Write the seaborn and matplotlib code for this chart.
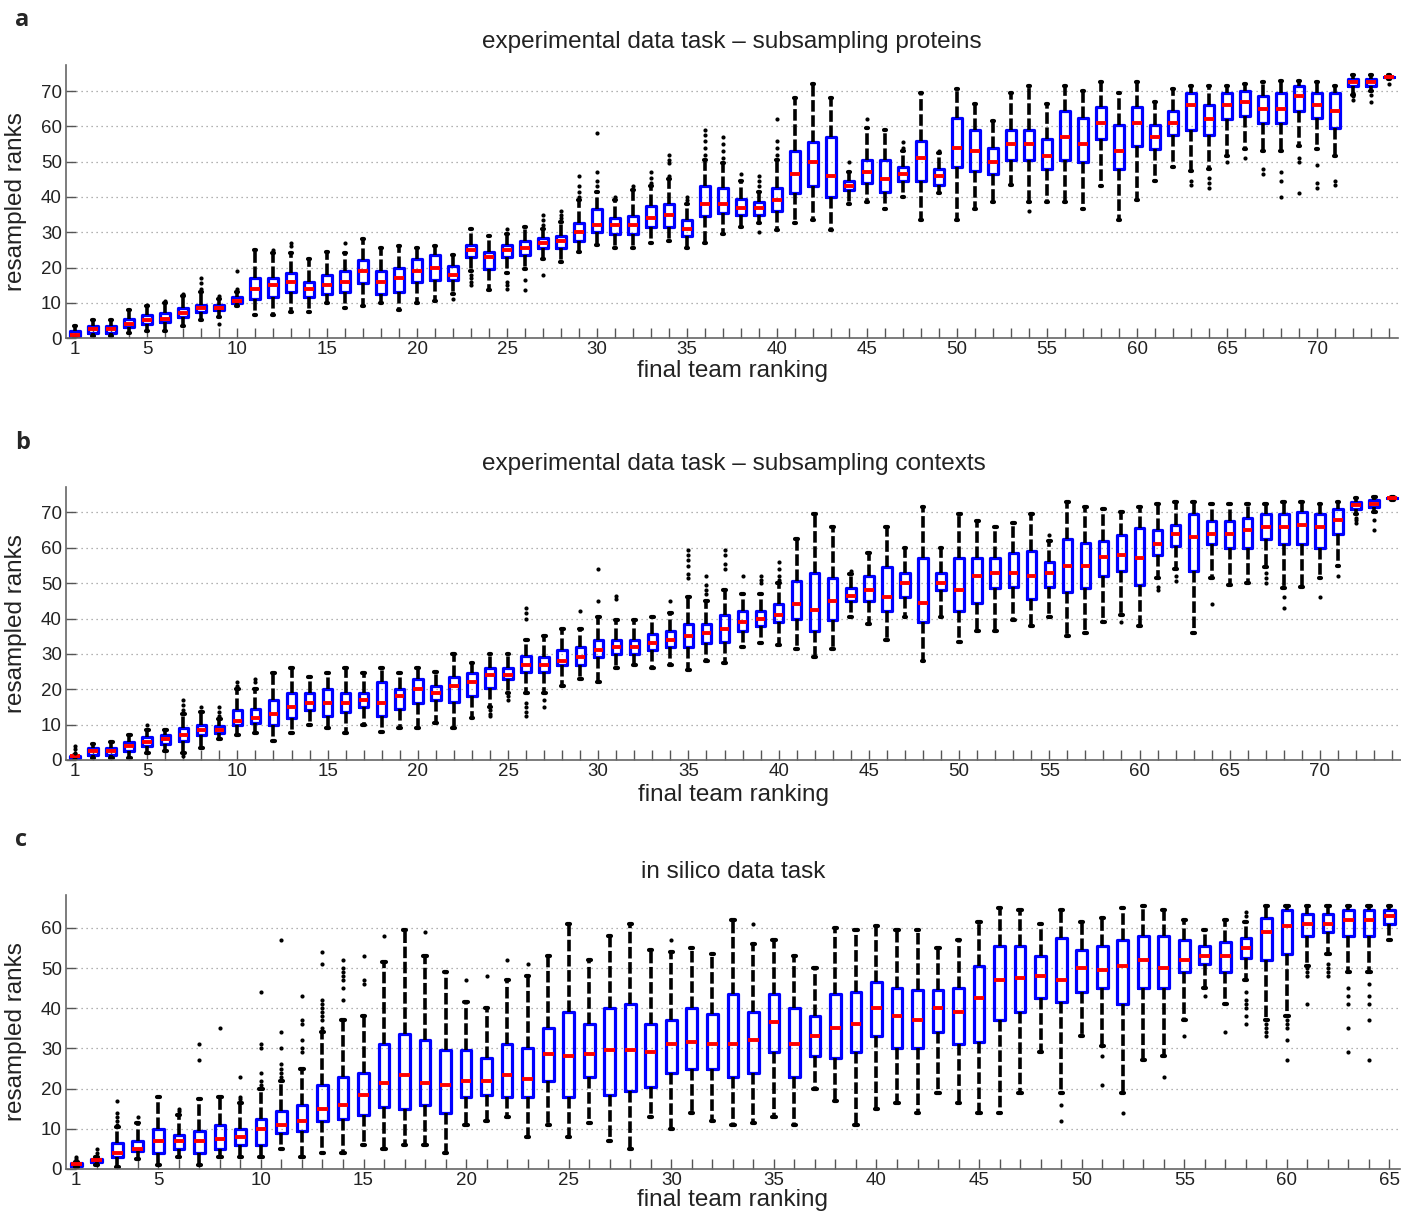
import matplotlib
matplotlib.use("Agg")
import matplotlib.pyplot as plt
import seaborn as sns
import pandas as pd
import numpy as np

# Panel a: experimental data task - subsampling proteins (74 teams)
a_lo = [0, 0.5, 0.5, 1.5, 2, 2, 3.5, 5, 6, 9,
        6.5, 6.5, 7.5, 7.5, 10, 8.5, 9, 10, 8, 10,
        10.5, 12.5, 19, 13.5, 18.5, 19.5, 22.5, 21.5, 24.5, 26.5,
        25.5, 25.5, 27, 27.5, 25.5, 27, 29.5, 31.5, 32.5, 30.5,
        32.5, 33.5, 30.5, 38, 38.5, 36.5, 40, 33.5, 41, 33.5,
        36.5, 38.5, 43.5, 38.5, 38.5, 38.5, 36.5, 43, 33.5, 39,
        44.5, 48.5, 47.5, 48, 51.5, 53.5, 53, 53, 54.5, 53.5,
        51.5, 69, 70, 73.5]
a_q1 = [0.5, 1.5, 1.5, 3, 4, 4.5, 6, 7.5, 8, 10,
        11, 11.5, 13, 11.5, 12.5, 13, 15.5, 12.5, 13, 16,
        16.5, 16.5, 23, 19.5, 23, 23.5, 25.5, 25.5, 27.5, 30,
        29.5, 29.5, 31.5, 31.5, 29, 34.5, 35.5, 35, 35, 36,
        41, 43, 40, 42, 44, 41.5, 44.5, 44.5, 43.5, 48.5,
        47.5, 46.5, 50.5, 50.5, 48, 50.5, 50, 56.5, 48, 54.5,
        53.5, 57.5, 59, 57.5, 62, 63, 61, 61, 64.5, 62.5,
        59.5, 71.5, 71.5, 74]
a_med = [1, 2.5, 2.5, 4, 5, 5.5, 7, 8.5, 8.5, 10.5,
         14, 15, 16, 14, 15, 16, 19, 16, 17, 19,
         20, 18, 25, 23, 25, 25.5, 27, 27.5, 30, 32,
         32, 32, 34, 35, 31, 38, 38, 37, 37, 39,
         46.5, 50, 46, 43, 47, 45, 46.5, 51, 46, 54,
         53, 50, 55, 55, 51.5, 57, 55, 61, 53, 61,
         57, 61, 66, 62, 66, 67, 65, 65, 68.5, 66,
         64.5, 72.5, 72.5, 74]
a_q3 = [2, 3.5, 3.5, 5.5, 6.5, 7, 8.5, 9.5, 9.5, 11.5,
        17, 17, 18.5, 16, 18, 19, 22, 19, 20, 22.5,
        23.5, 20.5, 26.5, 24.5, 26.5, 27.5, 28.5, 29, 32.5, 36.5,
        34, 34.5, 37.5, 38, 33.5, 43, 42.5, 39.5, 38.5, 42.5,
        53, 55.5, 57, 44.5, 50.5, 50.5, 48.5, 56, 48, 62.5,
        59, 54, 59, 59, 56.5, 64.5, 62.5, 65.5, 60.5, 65.5,
        60.5, 64.5, 69.5, 66, 69.5, 70, 68.5, 69.5, 71.5, 69.5,
        69.5, 73.5, 73.5, 74]
a_hi = [3.5, 5, 5, 8, 9, 10, 12, 13, 11, 13,
        25, 24, 24, 22.5, 24.5, 24, 28, 25.5, 26, 25.5,
        26, 23.5, 31, 29, 29.5, 31.5, 31, 33, 39, 41.5,
        39, 42, 43, 45, 38, 50.5, 49.5, 44.5, 41.5, 50.5,
        68, 72, 68, 47, 59.5, 59, 53, 69.5, 52.5, 70.5,
        66.5, 61.5, 69.5, 71.5, 66.5, 71.5, 70, 72.5, 69.5, 72.5,
        67, 70.5, 71.5, 71.5, 71.5, 72, 72.5, 73, 73, 72.5,
        71.5, 74.5, 74.5, 74.5]
a_out_team = [5, 6, 7, 8, 8, 8, 9, 9, 10, 10,
              12, 13, 13, 16, 22, 23, 23, 23, 23, 25,
              25, 25, 25, 26, 26, 27, 27, 27, 27, 28,
              28, 28, 29, 29, 29, 29, 30, 30, 30, 30,
              31, 32, 33, 33, 33, 34, 34, 34, 34, 35,
              35, 36, 36, 36, 36, 36, 37, 37, 37, 37,
              38, 39, 39, 39, 39, 40, 40, 40, 40, 44,
              45, 47, 47, 49, 54, 63, 63, 64, 64, 64,
              65, 66, 67, 67, 68, 68, 68, 69, 69, 69,
              70, 70, 70, 71, 71, 72, 72, 72, 73, 73,
              74]
a_out_rank = [9.5, 10.5, 12.5, 14, 15.5, 17, 4, 12, 14, 19,
              25, 26, 27, 27, 11, 15, 16, 17, 18, 14,
              15, 16, 31, 13.5, 16.5, 18, 32, 33.5, 35, 34,
              35, 36, 40, 41.5, 43, 46, 43, 44.5, 47, 58,
              40, 43, 44, 45.5, 47, 46, 49.5, 50.5, 52, 39,
              40, 52, 54, 56, 57.5, 59, 51, 53, 55, 57,
              46.5, 30, 43, 44.5, 46, 52, 54, 56, 62, 50,
              62, 54, 55.5, 53, 36, 43.5, 44.5, 42.5, 44, 45.5,
              50, 51, 46.5, 48, 40, 44.5, 47, 41, 50, 51,
              42.5, 44, 49, 43.5, 44.5, 67.5, 68.5, 69.5, 67, 69,
              72]

# Panel b: experimental data task - subsampling contexts (74 teams)
b_lo = [0, 0.5, 0.5, 0.5, 2, 2.5, 2, 3.5, 6, 7,
        7.5, 5.5, 7.5, 10, 9, 7.5, 10, 8, 9, 9,
        10.5, 9, 12, 15, 19, 19, 19, 21, 23, 22,
        26, 27, 26, 27, 25.5, 28, 27.5, 32, 33, 32.5,
        31.5, 29, 31.5, 40.5, 38.5, 34, 40.5, 28, 40.5, 33.5,
        36.5, 36.5, 39.5, 38, 40.5, 35, 36, 39, 41, 38,
        51.5, 54, 36, 51.5, 49.5, 50, 54.5, 48.5, 49, 51.5,
        55, 69.5, 70, 73.5]
b_q1 = [0.7, 1.5, 1.5, 2.5, 4, 4.5, 5.5, 7, 7.5, 10,
        10.5, 10, 12, 14, 12.5, 13.5, 15, 12.5, 14.5, 16,
        17, 16.5, 18, 20.5, 23, 25, 25, 27, 27, 29,
        30, 30, 31, 32, 32, 33, 33.5, 36.5, 38, 39,
        40, 36.5, 39.5, 45, 45, 42, 46, 39, 48, 42,
        44.5, 48.5, 49, 45.5, 49, 47.5, 48.5, 52, 53.5, 49.5,
        58, 60.5, 53.5, 61, 60, 60, 62.5, 61, 61, 60,
        64, 71, 71.5, 74]
b_med = [1, 2.5, 2.5, 4, 5, 6, 7, 8.5, 8.5, 11,
         12, 13, 15, 16, 16, 16, 17, 16, 18, 20,
         19, 21, 22, 24, 24, 27, 27, 28, 29, 31,
         32, 32, 33, 34, 35, 36, 37, 39, 40, 41,
         44, 42.5, 45, 46.5, 48, 46, 50, 44.5, 50, 48,
         52, 53, 53, 52, 53, 55, 55, 57.5, 58, 57,
         61, 64, 63, 64, 64, 65, 66, 66, 66.5, 66,
         68, 72, 72.5, 74]
b_q3 = [1.2, 3.5, 3.5, 5, 6.5, 7, 9, 10, 9.5, 14,
        14.5, 17, 19, 19, 20, 19, 19, 22, 20, 23,
        21, 23.5, 24.5, 26, 26, 29.5, 29, 31, 32, 34,
        34, 34, 35.5, 36.5, 38.5, 38.5, 41, 42, 42, 44,
        50.5, 53, 51.5, 48.5, 52, 54.5, 53, 57, 53, 57,
        57, 57, 58.5, 59, 56, 62.5, 61.5, 62, 63.5, 65.5,
        65, 66.5, 69.5, 67.5, 67.5, 68.5, 69.5, 69.5, 70, 69.5,
        71, 73, 73.5, 74]
b_hi = [1.5, 4.5, 5, 7, 8.5, 8.5, 13, 13.5, 11.5, 20,
        20, 24.5, 26, 23.5, 24.5, 26, 24.5, 26, 24.5, 26,
        25, 30, 27.5, 30, 30, 34, 35, 37, 37, 40.5,
        39.5, 39.5, 40.5, 41.5, 46, 45, 48, 47, 47, 50,
        62.5, 69.5, 66, 52.5, 58.5, 66, 60, 71.5, 60, 69.5,
        67.5, 66, 67, 69.5, 62, 73, 71.5, 71, 70, 71.5,
        72.5, 73, 73, 72.5, 72.5, 72.5, 72.5, 73, 73, 72.5,
        73, 74, 74.5, 74.5]
b_out_team = [1, 1, 1, 5, 7, 7, 7, 7, 8, 9,
              9, 9, 10, 10, 11, 11, 24, 24, 24, 25,
              25, 26, 26, 26, 26, 26, 26, 26, 27, 27,
              29, 30, 30, 31, 31, 34, 35, 35, 35, 35,
              35, 35, 36, 36, 36, 36, 37, 37, 37, 37,
              38, 39, 39, 39, 40, 40, 40, 40, 44, 55,
              59, 61, 61, 62, 62, 64, 67, 67, 67, 68,
              68, 70, 71, 72, 72, 72, 73, 73]
b_out_rank = [2, 3, 4, 10, 1, 14, 15.5, 17, 15, 12.5,
              13.5, 15, 21, 22, 22, 23, 12.5, 13, 14, 17,
              18, 12.5, 13.5, 15, 16, 40, 41.5, 43, 15, 17,
              42, 45, 54, 45.5, 46.5, 45, 51.5, 52.5, 55, 56.5,
              58, 59.5, 47, 48, 49.5, 52, 54, 55.5, 58, 59.5,
              52, 50, 51, 52, 51, 52, 54, 56, 53.5, 63.5,
              39, 48, 49, 50.5, 52, 44, 50, 51.5, 53, 43,
              46, 46, 52, 67, 68, 68.5, 65, 68]

# Panel c: in silico data task (65 teams)
c_lo = [0.5, 1, 0.5, 2.5, 1, 3, 1, 3, 3, 3,
        5, 3, 4, 4, 6, 5, 6, 6, 4, 11,
        12, 13, 8, 11, 8, 11.5, 7, 5, 13, 10,
        14, 12, 11, 11.5, 13, 11, 20, 17, 11, 15,
        16.5, 14, 19, 16.5, 14, 14, 19, 29, 19, 33,
        30.5, 19, 27, 28, 37, 45, 41, 47, 37, 38,
        50.5, 53.5, 49, 49, 57]
c_q1 = [0.8, 1.8, 3, 4.5, 4, 5, 4, 5, 6, 6,
        9, 9.5, 12, 12.5, 13.5, 15.5, 15, 16, 14, 18,
        18.5, 18, 18, 22, 18, 23, 18.5, 19.5, 20.5, 24,
        25, 25, 23, 24, 29, 23, 28, 27.5, 29, 33,
        30, 30, 34, 31, 31.5, 37, 39, 42.5, 41.5, 44,
        45, 41, 45, 45, 49, 51, 49, 52.5, 52, 53.5,
        58, 59, 58, 58, 61]
c_med = [1.2, 2.2, 4, 5, 7, 7, 7, 7.5, 8, 10,
         11, 12, 15, 16, 18.5, 21.5, 23.5, 21.5, 21, 22,
         22, 23.5, 22.5, 28.5, 28, 28.5, 29.5, 29.5, 29, 31,
         31.5, 31, 31, 32, 36.5, 31, 33, 35, 36, 40,
         38, 37, 40, 39, 42.5, 47, 47.5, 48, 47, 50,
         49.5, 50.5, 52, 50, 52, 53, 53, 55, 59, 60.5,
         61, 61, 62, 62, 63]
c_q3 = [1.5, 2.4, 6.5, 7, 10, 8.5, 9.5, 11, 10, 12.5,
        14.5, 16, 21, 23, 24, 31, 33.5, 32, 29.5, 29.5,
        27.5, 31, 30, 35, 39, 36, 40, 41, 36, 37,
        40, 38.5, 43.5, 39, 43.5, 40, 38, 43.5, 44, 46.5,
        45, 44.5, 44.5, 45, 50.5, 55.5, 55.5, 53, 57.5, 54.5,
        55.5, 57, 58, 58, 57, 55.5, 56.5, 57.5, 62.5, 64.5,
        63.5, 63.5, 64.5, 64.5, 64.5]
c_hi = [1.8, 3, 10.5, 11.5, 18, 13.5, 17.5, 18, 16.5, 20,
        22, 25, 34, 37, 38, 51.5, 59.5, 53, 49, 41.5,
        40, 47, 48, 53, 61, 52, 58, 61, 54.5, 54,
        55, 53.5, 62, 56, 57, 53, 50, 60, 59.5, 60.5,
        59.5, 59.5, 55, 57, 61.5, 65, 64.5, 61, 64.5, 61.5,
        62.5, 65, 65.5, 64.5, 62, 59.5, 62, 61.5, 65.5, 65.5,
        65.5, 65.5, 65.5, 65.5, 65.5]
c_out_team = [1, 1, 2, 2, 3, 3, 3, 3, 3, 4,
              6, 6, 7, 7, 8, 9, 9, 9, 10, 10,
              10, 10, 10, 10, 11, 11, 11, 11, 11, 11,
              11, 12, 12, 12, 12, 12, 12, 13, 13, 13,
              13, 13, 13, 13, 13, 13, 14, 14, 14, 14,
              14, 14, 14, 15, 15, 15, 16, 18, 20, 21,
              22, 23, 30, 34, 49, 49, 51, 51, 52, 54,
              55, 56, 57, 58, 58, 58, 58, 58, 58, 58,
              58, 59, 59, 59, 59, 60, 60, 60, 60, 60,
              61, 61, 61, 61, 62, 62, 62, 62, 63, 63,
              63, 63, 63, 64, 64, 64, 64, 64]
c_out_rank = [2.5, 3, 4, 5, 11, 12, 13, 14, 17, 13,
              14.5, 15, 27, 31, 35, 17.5, 18, 23, 21, 22,
              24, 30, 31, 44, 23, 24, 25, 26, 30, 34,
              57, 29, 30, 32, 36, 37, 43, 35, 37, 38,
              39, 40, 41, 42, 51, 54, 42, 45, 47, 48,
              49, 50, 52, 46, 47, 53, 58, 59, 47, 48,
              52, 51, 57, 61, 16, 12, 28, 21, 14, 23,
              33, 43, 34, 36, 38, 40, 41, 42, 44, 63,
              64, 33, 34, 35, 36, 27, 32, 35, 36, 37,
              41, 48, 49, 50, 48, 49, 50, 51, 29, 35,
              41, 43, 45, 27, 37, 41, 43, 46]

titles = ["experimental data task \u2013 subsampling proteins",
          "experimental data task \u2013 subsampling contexts",
          "in silico data task"]
panel_letters = ["a", "b", "c"]

sns.set_style("white")
plt.rcParams['font.family'] = ['Liberation Sans', 'DejaVu Sans']


def to_long(lo, q1, med, q3, hi):
    # five summary values per team -> quartiles come out exactly with whis=(0, 100)
    teams = np.arange(1, len(med) + 1)
    parts = [pd.DataFrame({'team': teams, 'rank': v}) for v in (lo, q1, med, q3, hi)]
    return pd.concat(parts, ignore_index=True)


def draw_panel(ax, stats, out_team, out_rank, title, ymax, ystep_max):
    df = to_long(*stats)
    n = len(stats[2])
    sns.boxplot(data=df, x='team', y='rank', orient='x', native_scale=True,
                whis=(0, 100), width=0.52, fill=False, showfliers=False, ax=ax,
                boxprops=dict(color='#0000ff', linewidth=2.3),
                medianprops=dict(color='#ff0000', linewidth=2.8),
                whiskerprops=dict(color='black', linewidth=2.6,
                                  linestyle=(0, (3.2, 1.0))),
                capprops=dict(color='black', linewidth=3.0),
                capwidths=0.16)
    sns.scatterplot(x=out_team, y=out_rank, ax=ax, color='black', s=9,
                    linewidth=0, zorder=3)

    ax.set_xlim(0.5, n + 0.5)
    ax.set_ylim(0, ymax)
    ticks = list(range(1, n + 1))
    ax.set_xticks(ticks)
    ax.set_xticklabels([str(t) if (t == 1 or t % 5 == 0) else '' for t in ticks])
    ax.set_yticks(list(range(0, ystep_max + 1, 10)))

    ax.tick_params(axis='both', direction='in', length=7, width=1,
                   color='#555555', labelsize=13.5, labelcolor='#222222',
                   bottom=True, left=True, top=False, right=False)
    ax.tick_params(axis='x', pad=2)
    ax.tick_params(axis='y', pad=3)

    ax.set_axisbelow(True)
    ax.yaxis.grid(True, linestyle=(0, (1, 3)), color='#999999', linewidth=0.9)
    ax.xaxis.grid(False)
    for side in ['top', 'right']:
        ax.spines[side].set_visible(False)
    for side in ['left', 'bottom']:
        ax.spines[side].set_color('#666666')
        ax.spines[side].set_linewidth(1.2)

    ax.set_title(title, fontsize=17.5, color='#222222', pad=12)
    ax.set_xlabel('final team ranking', fontsize=17.5, color='#222222')
    ax.set_ylabel('resampled ranks', fontsize=17.5, color='#222222')
    ax.yaxis.set_label_coords(-0.029, 0.5)


fig = plt.figure(figsize=(14.01, 12.16), dpi=100)

ax_a = fig.add_axes([0.0471, 0.722, 0.9508, 0.2245])
ax_b = fig.add_axes([0.0471, 0.375, 0.9530, 0.2245])
ax_c = fig.add_axes([0.0471, 0.0387, 0.9520, 0.2253])

draw_panel(ax_a, (a_lo, a_q1, a_med, a_q3, a_hi), a_out_team, a_out_rank,
           titles[0], 77.4, 70)
draw_panel(ax_b, (b_lo, b_q1, b_med, b_q3, b_hi), b_out_team, b_out_rank,
           titles[1], 77.2, 70)
draw_panel(ax_c, (c_lo, c_q1, c_med, c_q3, c_hi), c_out_team, c_out_rank,
           titles[2], 68.2, 60)

ax_a.xaxis.set_label_coords(0.5, -0.082)
ax_b.xaxis.set_label_coords(0.5, -0.088)
ax_c.xaxis.set_label_coords(0.5, -0.072)

for letter, ypos in zip(panel_letters, [0.9836, 0.6357, 0.3092]):
    fig.text(0.011, ypos, letter, fontsize=17, fontweight='bold',
             family=['Open Sans', 'DejaVu Sans'], va='center', ha='left')

fig.savefig('out.png', dpi=100)
